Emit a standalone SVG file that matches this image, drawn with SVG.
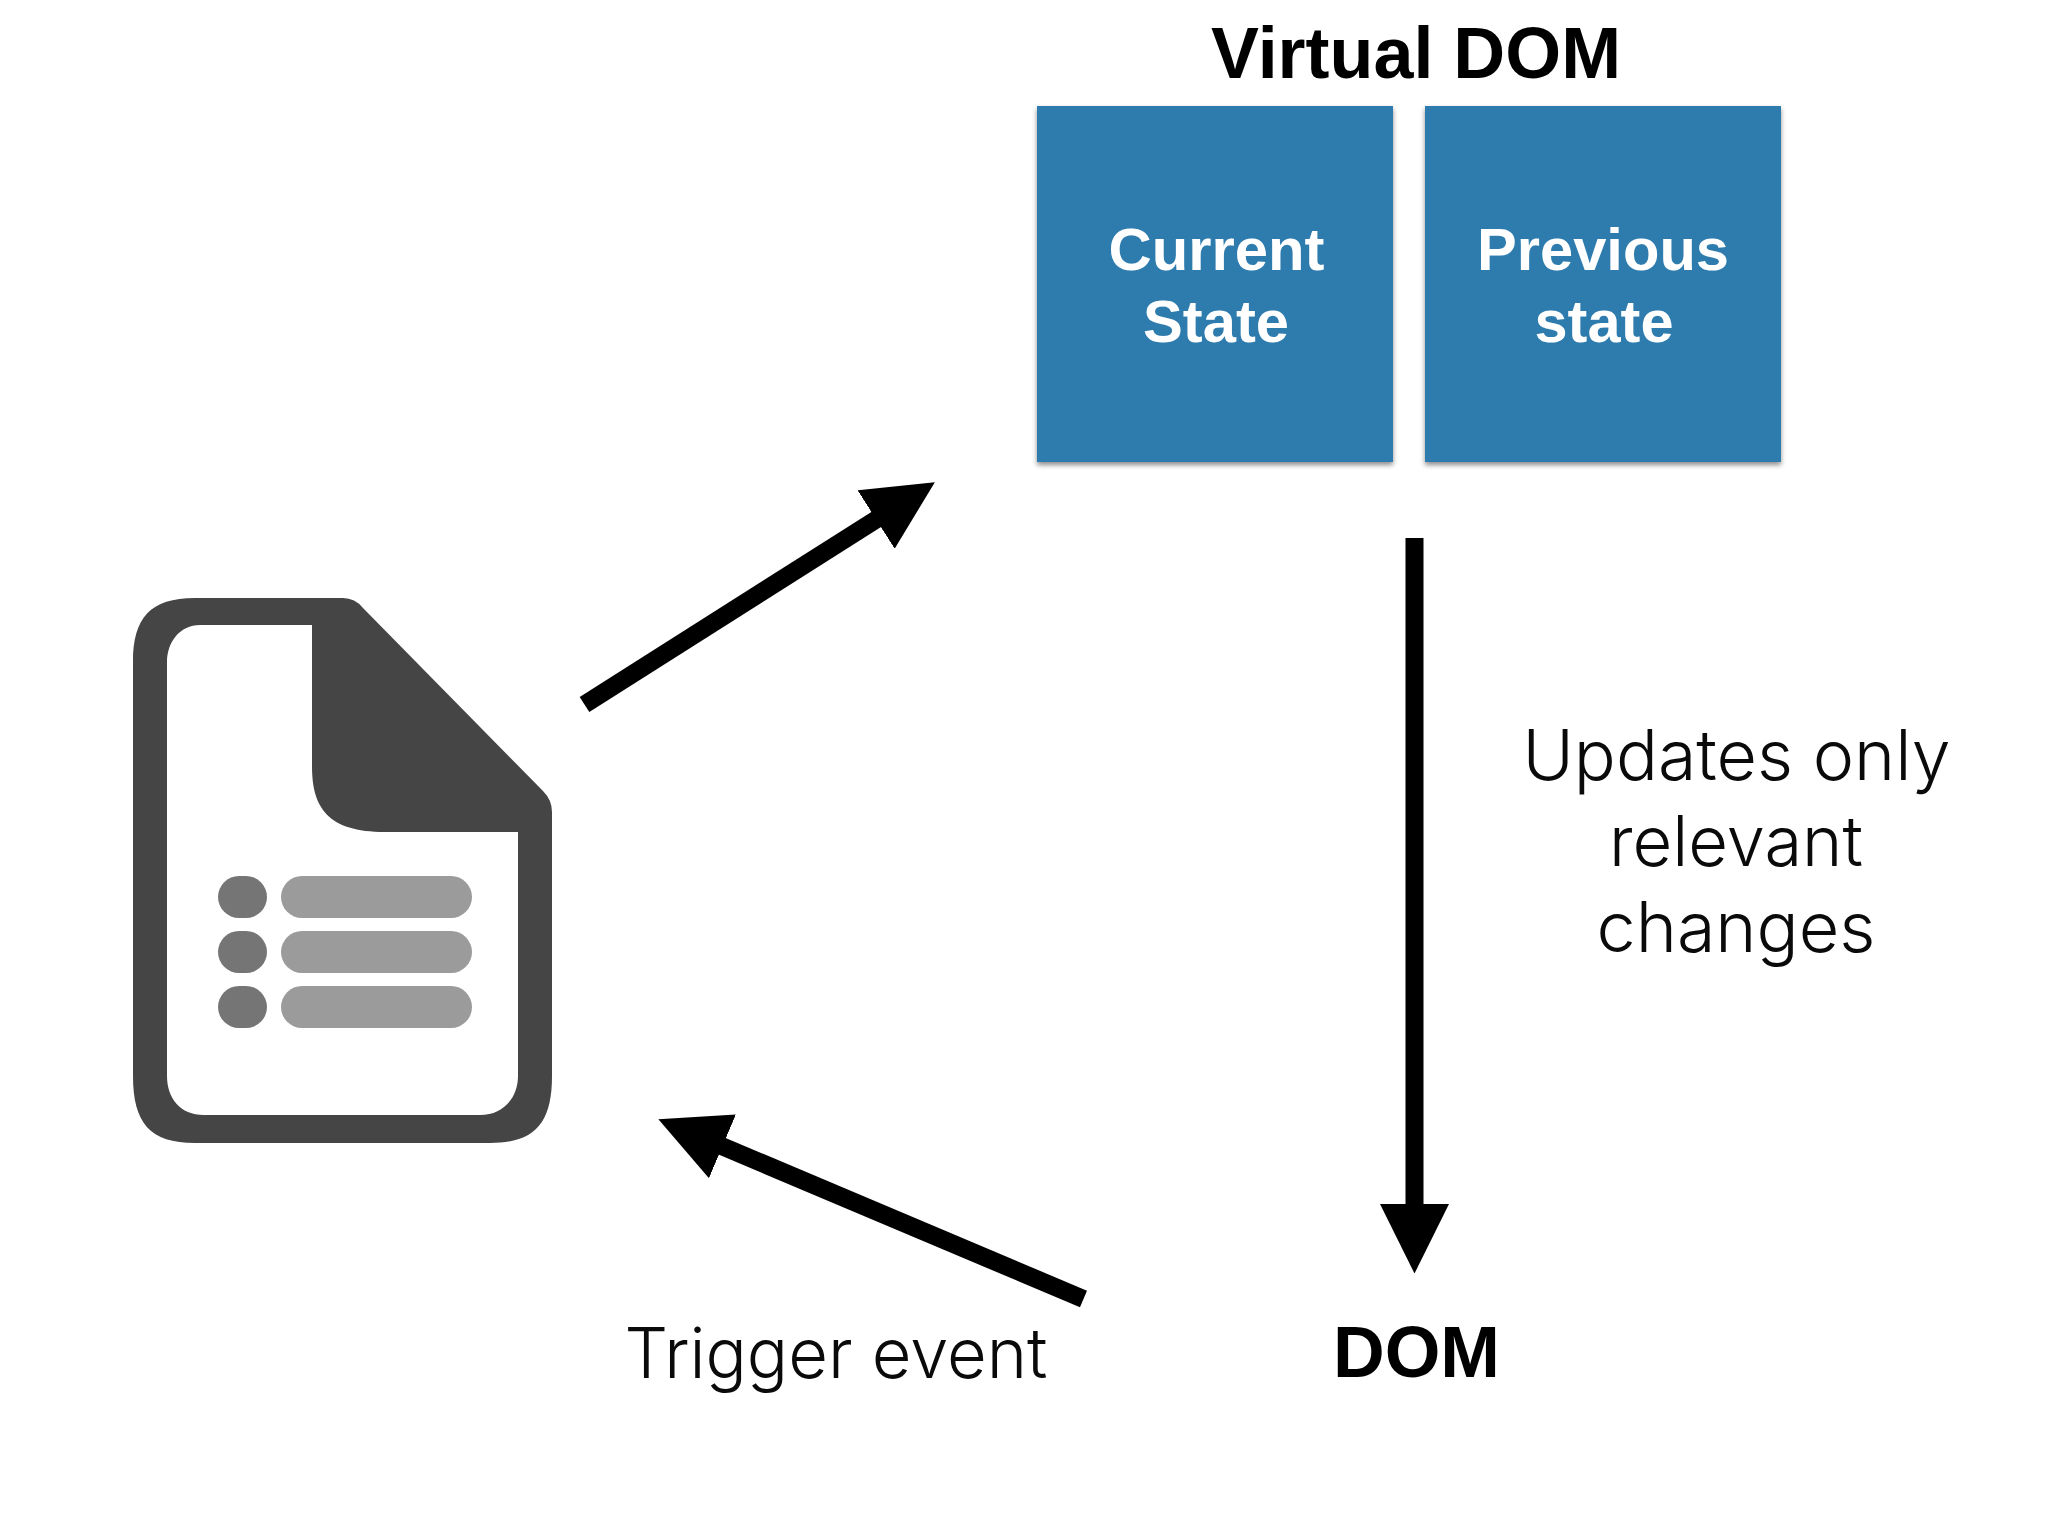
<svg xmlns="http://www.w3.org/2000/svg" width="2048" height="1536" viewBox="0 0 2048 1536">
<style>
.bold{font-family:"Liberation Sans",Arial,sans-serif;font-weight:700;text-anchor:middle;fill:#000}
.light{font-family:Inter,"Liberation Sans",sans-serif;font-weight:300;text-anchor:middle;fill:#0a0a0a}
.box{fill:#2f7bad;filter:url(#sh)}
.w{fill:#fff;font-size:60px}
.big{font-size:73px}
.lt{font-size:70px}
.conn{stroke:#000;stroke-width:18;fill:none;marker-end:url(#head)}
.dot{fill:#757575}
.bar{fill:#9b9b9b}
</style>
<defs>
<filter id="sh" x="-5%" y="-5%" width="110%" height="110%"><feDropShadow dx="0" dy="3" stdDeviation="2.5" flood-color="#000" flood-opacity="0.45"/></filter>
<marker id="head" markerUnits="userSpaceOnUse" markerWidth="70" markerHeight="70" viewBox="0 0 70 70" refX="1" refY="35" orient="auto"><path d="M0 0.5L69.5 35L0 69.5z" fill="#000"/></marker>
</defs>
<rect width="2048" height="1536" fill="#fff"/>
<g id="connectors">
<line class="conn" x1="584.5" y1="704.5" x2="877" y2="519"/>
<line class="conn" x1="1414.5" y1="538" x2="1414.5" y2="1205"/>
<line class="conn" x1="1083.5" y1="1299" x2="721.5" y2="1146"/>
</g>
<g id="document">
<path fill-rule="evenodd" fill="#454545" d="M190 598H343Q355 598 363 608L543 791Q552 800 552 812V1076C552 1123 535 1143 490 1143H195C150 1143 133 1123 133 1076V662C133 618 150 598 195 598ZM200 625C180 625 167 642 167 662V1076C167 1098 180 1115 204 1115H480C503 1115 518 1098 518 1076V832H385C328 832 312 808 312 766V625Z"/>
<rect class="dot" x="218" y="876" width="49" height="42" rx="21"/>
<rect class="bar" x="281" y="876" width="191" height="42" rx="21"/>
<rect class="dot" x="218" y="931" width="49" height="42" rx="21"/>
<rect class="bar" x="281" y="931" width="191" height="42" rx="21"/>
<rect class="dot" x="218" y="986" width="49" height="42" rx="21"/>
<rect class="bar" x="281" y="986" width="191" height="42" rx="21"/>
</g>
<g id="virtual-dom-title"><text class="bold big" x="1416" y="78" textLength="410" lengthAdjust="spacingAndGlyphs">Virtual DOM</text></g>
<g id="current-state">
<rect class="box" x="1037" y="106" width="356" height="356"/>
<text class="bold w" x="1216.5" y="270" textLength="216" lengthAdjust="spacingAndGlyphs">Current</text>
<text class="bold w" x="1216" y="342" textLength="146" lengthAdjust="spacingAndGlyphs">State</text>
</g>
<g id="previous-state">
<rect class="box" x="1425" y="106" width="356" height="356"/>
<text class="bold w" x="1603" y="270" textLength="252" lengthAdjust="spacingAndGlyphs">Previous</text>
<text class="bold w" x="1604" y="342" textLength="139" lengthAdjust="spacingAndGlyphs">state</text>
</g>
<g id="updates-label">
<text class="light lt" x="1736.5" y="780" textLength="428" lengthAdjust="spacingAndGlyphs">Updates only</text>
<text class="light lt" x="1736" y="866" textLength="254" lengthAdjust="spacingAndGlyphs">relevant</text>
<text class="light lt" x="1736" y="952" textLength="279" lengthAdjust="spacingAndGlyphs">changes</text>
</g>
<g id="trigger-label"><text class="light lt" x="836" y="1378" textLength="423" lengthAdjust="spacingAndGlyphs">Trigger event</text></g>
<g id="dom"><text class="bold big" x="1416.5" y="1377" textLength="167" lengthAdjust="spacingAndGlyphs">DOM</text></g>
</svg>
